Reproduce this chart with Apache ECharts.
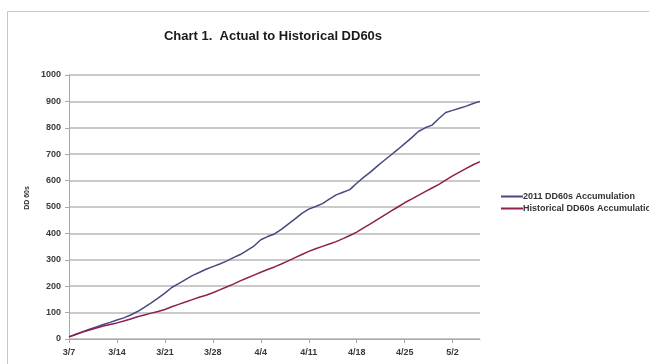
<!DOCTYPE html>
<html>
<head>
<meta charset="utf-8">
<script src="https://cdn.jsdelivr.net/npm/echarts@6/dist/echarts.min.js"></script>
<style>
  html, body { margin: 0; padding: 0; background: #fff; }
  #chart { width: 649px; height: 364px; }
</style>
</head>
<body>
<div id="chart"></div>
<script>
// dates 3/7 .. 5/6, one point per day
const startDay = new Date(2011, 2, 7);
const dates = [];
for (let i = 0; i < 61; i++) {
  const d = new Date(startDay.getTime() + i * 86400000);
  dates.push((d.getMonth() + 1) + '/' + d.getDate());
}

// 2011 DD60s accumulation
const actual2011 = [
  8, 18, 28, 37, 46, 55, 63, 72, 80, 91,
  104, 120, 137, 155, 174, 195, 210, 225, 240, 252,
  264, 274, 284, 295, 308, 320, 336, 352, 376, 388,
  398, 415, 435, 455, 476, 492, 502, 513, 530, 546,
  556, 566, 590, 612, 632, 655, 676, 697, 718, 740,
  762, 786, 800, 810, 835, 858, 866, 874, 882, 892,
  900
];

// historical DD60s accumulation
const historical = [
  8, 17, 26, 34, 42, 49, 55, 61, 68, 76,
  84, 91, 98, 104, 112, 122, 131, 140, 149, 158,
  166, 175, 186, 197, 208, 220, 231, 242, 253, 263,
  273, 284, 296, 308, 320, 332, 342, 351, 360, 369,
  380, 392, 405, 421, 436, 452, 468, 484, 500, 516,
  530, 544, 558, 572, 586, 602, 618, 632, 646, 660,
  672
];

const seriesNames = ['2011 DD60s Accumulation', 'Historical DD60s Accumulation'];
const lineColors = ['#464a80', '#8e1f50'];

const font = '"Liberation Sans", Arial, sans-serif';
const chart = echarts.init(document.getElementById('chart'));

chart.setOption({
  animation: false,
  backgroundColor: '#fff',
  graphic: [{
    type: 'rect',
    shape: { x: 7.5, y: 11.5, width: 700, height: 400 },
    style: { fill: 'none', stroke: '#c6c6c6', lineWidth: 1 }
  }],
  title: {
    text: 'Chart 1.  Actual to Historical DD60s',
    left: 268,
    textAlign: 'center',
    top: 25,
    textStyle: { fontFamily: font, fontSize: 13, fontWeight: 'bold', color: '#1a1a1a' }
  },
  legend: {
    orient: 'vertical',
    left: 496,
    top: 187,
    itemWidth: 22,
    itemHeight: 2,
    itemGap: 3,
    icon: 'rect',
    data: seriesNames,
    textStyle: { fontFamily: font, fontSize: 9, fontWeight: 'bold', color: '#333', padding: [0, 0, 0, -5] }
  },
  grid: { left: 69, right: 169, top: 75, bottom: 25 },
  xAxis: {
    type: 'category',
    data: dates,
    boundaryGap: false,
    axisLine: { lineStyle: { color: '#a8a8a8', width: 1 } },
    axisTick: { interval: 6, length: 4, inside: false, lineStyle: { color: '#a8a8a8' } },
    axisLabel: {
      interval: 6, margin: 9,
      fontFamily: font, fontSize: 9, fontWeight: 'bold', color: '#3a3a3a'
    },
    splitLine: { show: false }
  },
  yAxis: {
    type: 'value',
    min: 0,
    max: 1000,
    interval: 100,
    name: 'DD 60s',
    nameLocation: 'middle',
    nameGap: 35,
    nameTextStyle: { fontFamily: font, fontSize: 7, fontWeight: 'bold', color: '#333', padding: [0, 0, 0, 18] },
    axisLine: { show: true, lineStyle: { color: '#a8a8a8' } },
    axisTick: { show: true, length: 4, lineStyle: { color: '#a8a8a8' } },
    axisLabel: {
      margin: 8, fontFamily: font, fontSize: 9, fontWeight: 'bold', color: '#3a3a3a',
      formatter: (v) => String(v)
    },
    splitLine: { lineStyle: { color: '#b9b9b9', width: 1.5 } }
  },
  series: [
    {
      name: seriesNames[0],
      type: 'line',
      data: actual2011,
      showSymbol: false,
      color: lineColors[0],
      lineStyle: { width: 1.5, color: lineColors[0] }
    },
    {
      name: seriesNames[1],
      type: 'line',
      data: historical,
      showSymbol: false,
      color: lineColors[1],
      lineStyle: { width: 1.5, color: lineColors[1] }
    }
  ]
});
</script>
</body>
</html>
